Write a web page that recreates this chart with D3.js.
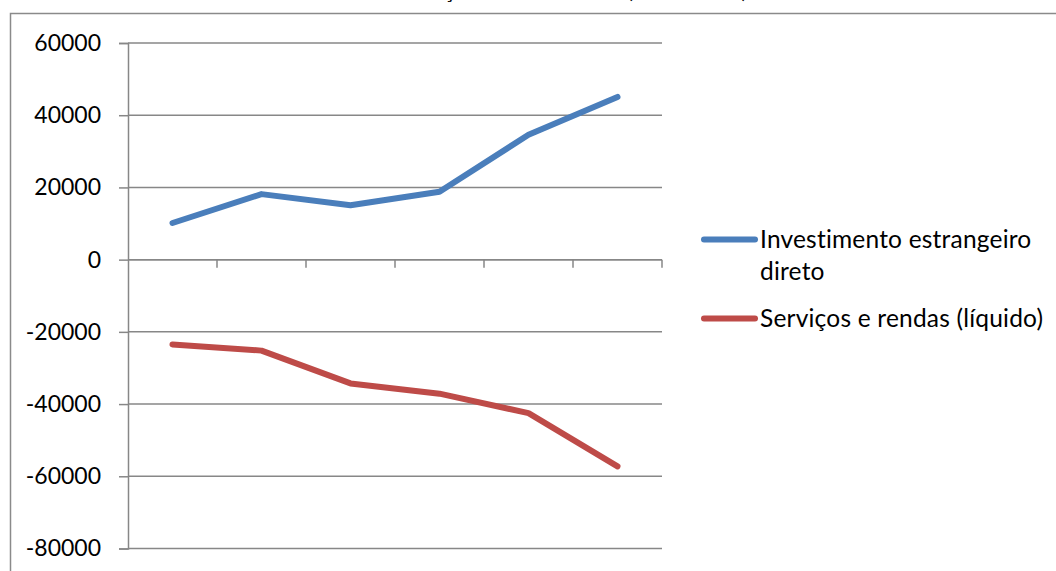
<!DOCTYPE html>
<html>
<head>
<meta charset="utf-8">
<script src="https://cdn.jsdelivr.net/npm/d3@7"></script>
<style>
  html, body { margin: 0; padding: 0; background: #fff; }
  svg { display: block; font-variant-ligatures: none; }
</style>
</head>
<body>
<svg id="chart" width="1056" height="571"></svg>
<script>
// Categories (years) and the two series, in US$ milhões
const years = ["2003", "2004", "2005", "2006", "2007", "2008"];
const investimento = [10144, 18146, 15066, 18822, 34585, 45058];
const servicos = [-23483, -25198, -34276, -37120, -42510, -57252];
const seriesNames = ["Investimento estrangeiro direto", "Serviços e rendas (líquido)"];
const seriesColors = ["#4A7EBB", "#BE4B48"];
const yTicks = [60000, 40000, 20000, 0, -20000, -40000, -60000, -80000];
const title = "Serviços e rendas e IED (em milhões)";

const svg = d3.select("#chart");
const font = "Lato, 'Open Sans', sans-serif";
const axisColor = "#878787";

const plot = { left: 128, right: 662, top: 43, bottom: 548.5 };

const x = d3.scaleBand().domain(years).range([plot.left, plot.right]);
const y = d3.scaleLinear().domain([-80000, 60000]).range([plot.bottom, plot.top]);
const cx = d => x(d) + x.bandwidth() / 2;

// Chart-area frame
svg.append("rect")
  .attr("x", 10.5).attr("y", 13.5)
  .attr("width", 1100).attr("height", 600)
  .attr("fill", "none").attr("stroke", "#8a8a8a").attr("stroke-width", 1.5);

// Title, sitting above the frame; placed so the opening parenthesis lands at x≈627
const titleText = svg.append("text")
  .attr("y", -2)
  .attr("font-family", font).attr("font-size", 22)
  .attr("fill", "#000")
  .text(title);
const parenIdx = title.indexOf("(");
const before = titleText.node().getSubStringLength(0, parenIdx);
titleText.attr("x", 627 - before);

// Horizontal gridlines
svg.append("g").selectAll("line").data(yTicks).join("line")
  .attr("x1", plot.left).attr("x2", plot.right)
  .attr("y1", d => y(d)).attr("y2", d => y(d))
  .attr("stroke", axisColor).attr("stroke-width", 1.5);

// Value axis
const yAxis = svg.append("g")
  .attr("transform", `translate(${plot.left},0)`)
  .call(d3.axisLeft(y).tickValues(yTicks).tickSize(9).tickPadding(18).tickFormat(d3.format("d")));
yAxis.select(".domain").attr("stroke", axisColor).attr("stroke-width", 1.5);
yAxis.selectAll(".tick line").attr("stroke", axisColor).attr("stroke-width", 1.5);
yAxis.selectAll(".tick text")
  .attr("font-family", font).attr("font-size", 23).attr("fill", "#000")
  .text(d => d < 0 ? "-" + Math.abs(d) : String(d));

// Category axis crossing at zero, tick marks at category boundaries
const y0 = y(0);
svg.append("line")
  .attr("x1", plot.left).attr("x2", plot.right)
  .attr("y1", y0).attr("y2", y0)
  .attr("stroke", axisColor).attr("stroke-width", 1.5);
svg.append("g").selectAll("line").data(years).join("line")
  .attr("x1", d => x(d) + x.bandwidth()).attr("x2", d => x(d) + x.bandwidth())
  .attr("y1", y0).attr("y2", y0 + 8)
  .attr("stroke", axisColor).attr("stroke-width", 1.5);

// Series lines
const line = d3.line().x((d, i) => cx(years[i])).y(d => y(d));
[investimento, servicos].forEach((vals, i) => {
  svg.append("path")
    .datum(vals)
    .attr("d", line)
    .attr("fill", "none")
    .attr("stroke", seriesColors[i])
    .attr("stroke-width", 6)
    .attr("stroke-linecap", "round")
    .attr("stroke-linejoin", "round");
});

// Legend
const legend = svg.append("g");
const legendRows = [
  { lines: ["Investimento estrangeiro", "direto"], y: 239.5 },
  { lines: ["Serviços e rendas (líquido)"], y: 318.5 }
];
legendRows.forEach((row, i) => {
  legend.append("line")
    .attr("x1", 704).attr("x2", 755)
    .attr("y1", row.y).attr("y2", row.y)
    .attr("stroke", seriesColors[i]).attr("stroke-width", 6)
    .attr("stroke-linecap", "round");
  const t = legend.append("text")
    .attr("x", 760).attr("y", row.y + 8.5)
    .attr("font-family", font).attr("font-size", 24.5).attr("fill", "#000")
    .attr("letter-spacing", 0.2);
  row.lines.forEach((s, j) => {
    t.append("tspan").attr("x", 760).attr("dy", j === 0 ? 0 : 32.3).text(s);
  });
});
</script>
</body>
</html>
